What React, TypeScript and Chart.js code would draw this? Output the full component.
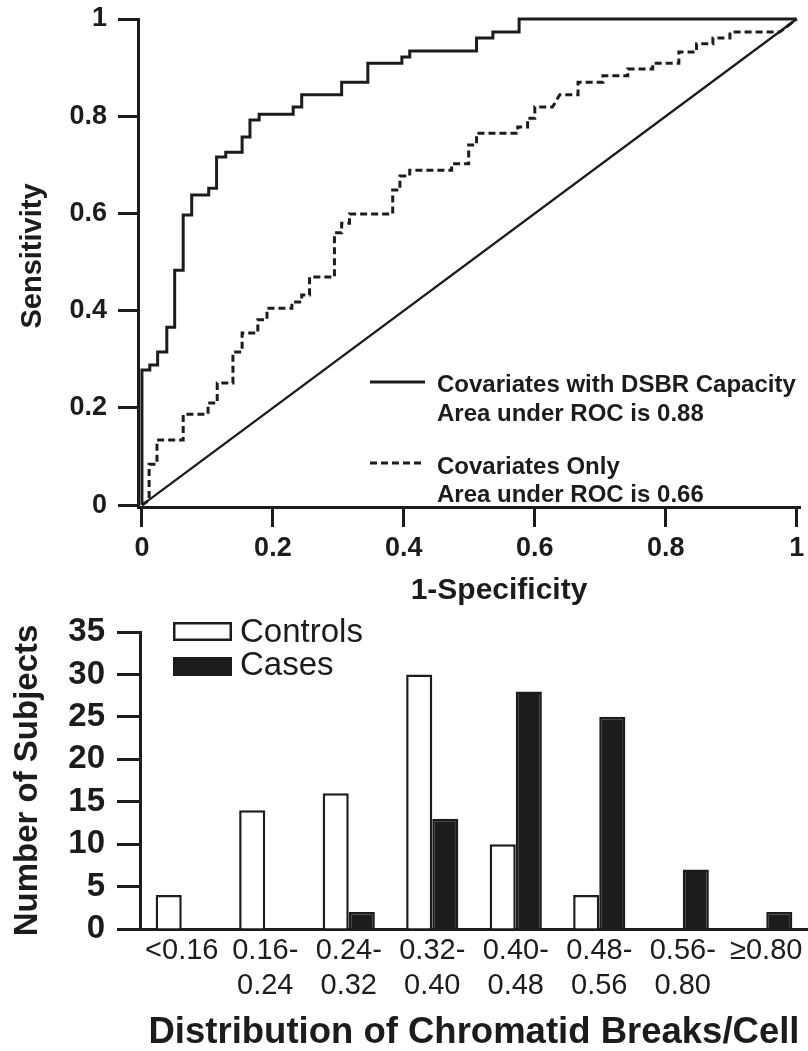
import React, { useEffect, useRef } from "react";
import { Chart, registerables } from "chart.js";

Chart.register(...registerables);

const FONT = "'Liberation Sans', Arial, Helvetica, sans-serif";
const INK = "#1c1c1c";

// ---------- ROC curve data (1-Specificity, Sensitivity) ----------
const rocWithFpr = [0, 0, 0.012, 0.012, 0.024, 0.024, 0.038, 0.038, 0.05, 0.05, 0.063, 0.063, 0.076, 0.076, 0.102, 0.102, 0.114, 0.114, 0.128, 0.128, 0.153, 0.153, 0.165, 0.165, 0.179, 0.179, 0.231, 0.231, 0.244, 0.244, 0.305, 0.305, 0.345, 0.345, 0.397, 0.397, 0.409, 0.409, 0.511, 0.511, 0.536, 0.536, 0.576, 0.576, 1];
const rocWithTpr = [0, 0.278, 0.278, 0.288, 0.288, 0.315, 0.315, 0.366, 0.366, 0.483, 0.483, 0.597, 0.597, 0.638, 0.638, 0.652, 0.652, 0.716, 0.716, 0.726, 0.726, 0.757, 0.757, 0.792, 0.792, 0.804, 0.804, 0.819, 0.819, 0.844, 0.844, 0.87, 0.87, 0.909, 0.909, 0.922, 0.922, 0.934, 0.934, 0.961, 0.961, 0.973, 0.973, 1, 1];

const rocOnlyFpr = [0, 0.011, 0.011, 0.023, 0.023, 0.063, 0.063, 0.101, 0.101, 0.115, 0.115, 0.139, 0.139, 0.153, 0.153, 0.177, 0.177, 0.191, 0.191, 0.229, 0.229, 0.244, 0.244, 0.256, 0.256, 0.294, 0.294, 0.305, 0.305, 0.317, 0.317, 0.383, 0.383, 0.394, 0.394, 0.409, 0.409, 0.473, 0.473, 0.499, 0.499, 0.511, 0.511, 0.574, 0.574, 0.589, 0.589, 0.6, 0.6, 0.627, 0.638, 0.666, 0.666, 0.704, 0.704, 0.742, 0.742, 0.78, 0.78, 0.82, 0.82, 0.847, 0.847, 0.872, 0.872, 0.898, 0.898, 0.974, 1];
const rocOnlyTpr = [0, 0.01, 0.084, 0.084, 0.134, 0.134, 0.187, 0.187, 0.21, 0.21, 0.251, 0.251, 0.315, 0.315, 0.354, 0.354, 0.381, 0.381, 0.405, 0.405, 0.418, 0.418, 0.432, 0.432, 0.469, 0.469, 0.56, 0.56, 0.58, 0.58, 0.599, 0.599, 0.648, 0.648, 0.677, 0.677, 0.689, 0.689, 0.702, 0.702, 0.741, 0.741, 0.765, 0.765, 0.778, 0.778, 0.796, 0.796, 0.819, 0.819, 0.844, 0.844, 0.87, 0.87, 0.883, 0.883, 0.897, 0.897, 0.909, 0.909, 0.932, 0.932, 0.949, 0.949, 0.961, 0.961, 0.973, 0.973, 1];

const refLineX = [0, 1];
const refLineY = [0, 1];

const rocTickValues = [0, 0.2, 0.4, 0.6, 0.8, 1];
const rocTickLabels = ["0", "0.2", "0.4", "0.6", "0.8", "1"];
const rocSeriesNames = ["Covariates with DSBR Capacity", "Covariates Only", "Reference"];
const rocAucLabels = ["Area under ROC is 0.88", "Area under ROC is 0.66"];
const rocXTitle = "1-Specificity";
const rocYTitle = "Sensitivity";

// ---------- Histogram data ----------
const barCategories = [["<0.16"], ["0.16-", "0.24"], ["0.24-", "0.32"], ["0.32-", "0.40"], ["0.40-", "0.48"], ["0.48-", "0.56"], ["0.56-", "0.80"], ["\u22650.80"]];
const barControls = [4, 14, 16, 30, 10, 4, 0, 0];
const barCases = [0, 0, 2, 13, 28, 25, 7, 2];
const barSeriesNames = ["Controls", "Cases"];
const barXTitle = "Distribution of Chromatid Breaks/Cell";
const barYTitle = "Number of Subjects";
const barYMin = 0;
const barYMax = 35;
const barYStep = 5;

const toPoints = (xs: number[], ys: number[]) => xs.map((x, i) => ({ x, y: ys[i] }));

const noScalePadding = (s: any) => {
  s.paddingTop = 0;
  s.paddingBottom = 0;
  s.paddingLeft = 0;
  s.paddingRight = 0;
};

const rocLegendPlugin = {
  id: "rocLegend",
  afterDraw(chart: any) {
    const ctx = chart.ctx;
    const items = [
      { ds: chart.data.datasets[0], lineY: 382, base: [392, 421], auc: rocAucLabels[0] },
      { ds: chart.data.datasets[1], lineY: 463, base: [474, 502], auc: rocAucLabels[1] },
    ];
    ctx.save();
    for (const it of items) {
      ctx.beginPath();
      ctx.strokeStyle = it.ds.borderColor;
      ctx.lineWidth = it.ds.borderWidth;
      ctx.setLineDash(it.ds.borderDash || []);
      ctx.moveTo(370, it.lineY);
      ctx.lineTo(425, it.lineY);
      ctx.stroke();
      ctx.setLineDash([]);
      ctx.fillStyle = INK;
      ctx.font = `bold 24px ${FONT}`;
      ctx.textAlign = "left";
      ctx.textBaseline = "alphabetic";
      ctx.fillText(it.ds.label, 437, it.base[0]);
      ctx.fillText(it.auc, 437, it.base[1]);
    }
    // axis titles
    ctx.fillStyle = INK;
    ctx.font = `bold 30px ${FONT}`;
    ctx.textAlign = "center";
    ctx.textBaseline = "middle";
    ctx.fillText(rocXTitle, 499, 591);
    ctx.translate(33, 256);
    ctx.rotate(-Math.PI / 2);
    ctx.font = `bold 29px ${FONT}`;
    ctx.fillText(rocYTitle, 0, 0);
    ctx.restore();
  },
};

const barLegendPlugin = {
  id: "barLegend",
  afterDraw(chart: any) {
    const ctx = chart.ctx;
    const items = [
      { ds: chart.data.datasets[0], boxY: 7, base: 27 },
      { ds: chart.data.datasets[1], boxY: 42, base: 60 },
    ];
    ctx.save();
    for (const it of items) {
      ctx.fillStyle = it.ds.borderColor;
      ctx.fillRect(173, it.boxY, 59, 19);
      ctx.fillStyle = it.ds.backgroundColor;
      ctx.fillRect(175.5, it.boxY + 2.5, 54, 14);
      ctx.fillStyle = INK;
      ctx.font = `33px ${FONT}`;
      ctx.textAlign = "left";
      ctx.textBaseline = "alphabetic";
      ctx.fillText(it.ds.label, 240, it.base);
    }
    ctx.restore();
  },
};

function rocConfig(): any {
  return {
    type: "scatter",
    data: {
      datasets: [
        { label: rocSeriesNames[0], data: toPoints(rocWithFpr, rocWithTpr), showLine: true, borderColor: INK, borderWidth: 3, pointRadius: 0, fill: false, clip: false, borderJoinStyle: "miter" },
        { label: rocSeriesNames[1], data: toPoints(rocOnlyFpr, rocOnlyTpr), showLine: true, borderColor: INK, borderWidth: 3, borderDash: [7, 4], pointRadius: 0, fill: false, clip: false, borderJoinStyle: "miter" },
        { label: rocSeriesNames[2], data: toPoints(refLineX, refLineY), showLine: true, borderColor: INK, borderWidth: 2.3, pointRadius: 0, fill: false, clip: false },
      ],
    },
    options: {
      animation: false,
      responsive: false,
      layout: { padding: { top: 19, right: 8, left: 0, bottom: 0 } },
      plugins: { legend: { display: false }, tooltip: { enabled: false } },
      scales: {
        x: {
          type: "linear",
          min: -0.006,
          max: 1.005,
          afterBuildTicks: (s: any) => { s.ticks = rocTickValues.map((v) => ({ value: v })); },
          afterFit: (s: any) => { s.height = 108; noScalePadding(s); },
          grid: { display: true, drawOnChartArea: false, drawTicks: true, tickLength: 20, tickWidth: 3, tickColor: INK },
          border: { display: true, color: INK, width: 3 },
          ticks: { color: INK, padding: 8, maxRotation: 0, autoSkip: false, font: { family: FONT, size: 27, weight: "bold", lineHeight: 1 }, callback: (_v: any, i: number) => rocTickLabels[i] },
          title: { display: false, text: rocXTitle },
        },
        y: {
          type: "linear",
          min: -0.004,
          max: 1,
          afterBuildTicks: (s: any) => { s.ticks = rocTickValues.map((v) => ({ value: v })); },
          afterFit: (s: any) => { s.width = 138; noScalePadding(s); },
          grid: { display: true, drawOnChartArea: false, drawTicks: true, tickLength: 20, tickWidth: 3, tickColor: INK },
          border: { display: true, color: INK, width: 3 },
          ticks: { color: INK, padding: 11, font: { family: FONT, size: 27, weight: "bold", lineHeight: 1 }, callback: (_v: any, i: number) => rocTickLabels[i] },
          title: { display: false, text: rocYTitle },
        },
      },
    },
    plugins: [rocLegendPlugin],
  };
}

function barConfig(): any {
  return {
    type: "bar",
    data: {
      labels: barCategories,
      datasets: [
        { label: barSeriesNames[0], data: barControls, backgroundColor: "#ffffff", borderColor: INK, borderWidth: 2.5, categoryPercentage: 0.625, barPercentage: 1 },
        { label: barSeriesNames[1], data: barCases, backgroundColor: INK, borderColor: INK, borderWidth: 2.5, categoryPercentage: 0.625, barPercentage: 1 },
      ],
    },
    options: {
      animation: false,
      responsive: false,
      layout: { padding: { top: 17, right: 0, left: 0, bottom: 0 } },
      plugins: { legend: { display: false }, tooltip: { enabled: false } },
      scales: {
        x: {
          afterFit: (s: any) => { s.height = 122; noScalePadding(s); },
          grid: { display: false, drawTicks: false },
          border: { display: true, color: INK, width: 3 },
          ticks: { color: INK, padding: 5, maxRotation: 0, autoSkip: false, font: { family: FONT, size: 29, lineHeight: 1.2 } },
          title: { display: true, text: barXTitle, color: INK, font: { family: FONT, size: 36.5, weight: "bold", lineHeight: 1 }, padding: { top: 0, bottom: 0 } },
        },
        y: {
          min: barYMin,
          max: barYMax,
          afterFit: (s: any) => { s.width = 140; noScalePadding(s); },
          grid: { display: true, drawOnChartArea: false, drawTicks: true, tickLength: 23, tickWidth: 3, tickColor: INK },
          border: { display: true, color: INK, width: 3 },
          ticks: { stepSize: barYStep, color: INK, padding: 12, font: { family: FONT, size: 33, weight: "bold", lineHeight: 1 } },
          title: { display: true, text: barYTitle, color: INK, font: { family: FONT, size: 33, weight: "bold", lineHeight: 1 }, padding: { top: 11.5, bottom: 0 } },
        },
      },
    },
    plugins: [barLegendPlugin],
  };
}

export default function App() {
  const rocRef = useRef<HTMLCanvasElement>(null);
  const barRef = useRef<HTMLCanvasElement>(null);
  useEffect(() => {
    const roc = new Chart(rocRef.current as HTMLCanvasElement, rocConfig());
    const bar = new Chart(barRef.current as HTMLCanvasElement, barConfig());
    return () => {
      roc.destroy();
      bar.destroy();
    };
  }, []);
  return (
    <div style={{ position: "absolute", left: 0, top: 0, width: 808, height: 1051, background: "#ffffff", overflow: "hidden" }}>
      <canvas ref={rocRef} width={808} height={615} style={{ position: "absolute", left: 0, top: 0, width: 808, height: 615 }} />
      <canvas ref={barRef} width={808} height={436} style={{ position: "absolute", left: 0, top: 615, width: 808, height: 436 }} />
    </div>
  );
}
